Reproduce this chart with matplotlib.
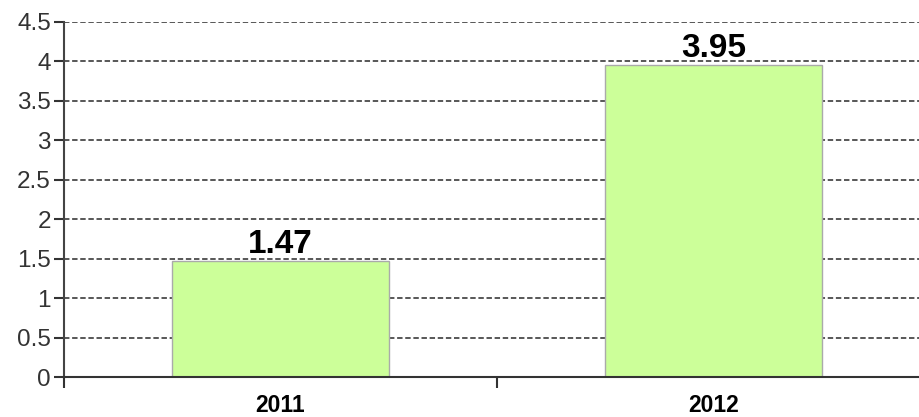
import matplotlib
matplotlib.use("Agg")
import matplotlib.pyplot as plt

categories = ["2011", "2012"]
values = [1.47, 3.95]
value_labels = ["1.47", "3.95"]
yticks = [0, 0.5, 1, 1.5, 2, 2.5, 3, 3.5, 4, 4.5]
ytick_labels = ["0", "0.5", "1", "1.5", "2", "2.5", "3", "3.5", "4", "4.5"]

plt.rcParams['font.family'] = ['Liberation Sans', 'DejaVu Sans']

fig = plt.figure(figsize=(9.2, 4.17), dpi=100)
W, H = 920, 417
ax = fig.add_axes([64 / W, 40 / H, 866 / W, 355 / H])

x = list(range(len(categories)))
ax.set_xlim(-0.5, len(categories) - 0.5)
ax.set_ylim(0, 4.5)

for yv in yticks[1:]:
    ax.axhline(yv, color='#4a4a4a', linestyle=(0, (3, 1.5)), linewidth=1.3, zorder=1)

bars = ax.bar(x, values, width=0.5, color='#ccff99', edgecolor='#aaaaaa', linewidth=1, zorder=2)
for xi, v, lab in zip(x, values, value_labels):
    ax.annotate(lab, (xi, v), xytext=(0, 1), textcoords='offset points',
                ha='center', va='bottom', fontsize=24, fontweight='bold', color='black', zorder=3)

ax.set_yticks(yticks)
ax.set_yticklabels(ytick_labels)
ax.tick_params(axis='y', length=7.5, width=1.5, color='#333333', pad=2, labelsize=17.5, labelcolor='#333333')

ax.set_xticks([i - 0.5 for i in range(len(categories) + 1)])
ax.set_xticklabels([''] * (len(categories) + 1))
ax.set_xticks(x, minor=True)
ax.set_xticklabels(categories, minor=True)
ax.tick_params(axis='x', which='major', length=8, width=1.5, color='#333333', direction='out')
ax.tick_params(axis='x', which='minor', length=0, pad=12, labelsize=16.5)
for t in ax.get_xticklabels(minor=True):
    t.set_fontweight('bold')

for s in ['top', 'right']:
    ax.spines[s].set_visible(False)
ax.spines['left'].set_color('#444444')
ax.spines['left'].set_linewidth(1.5)
ax.spines['bottom'].set_color('#333333')
ax.spines['bottom'].set_linewidth(1.5)

fig.savefig('out.png', dpi=100)
